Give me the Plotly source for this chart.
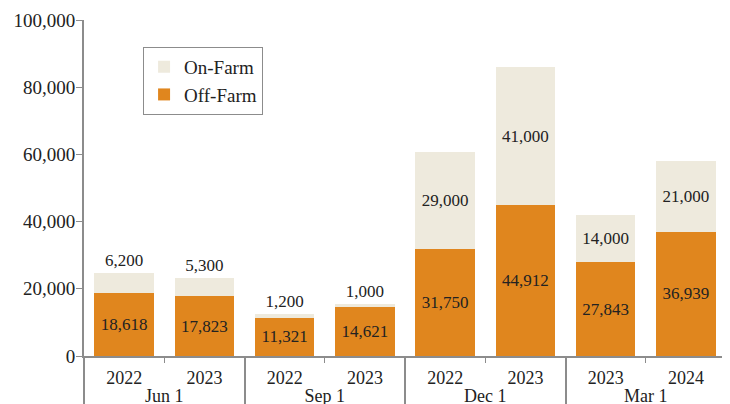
import plotly.graph_objects as go

groups = ["Jun 1", "Jun 1", "Sep 1", "Sep 1", "Dec 1", "Dec 1", "Mar 1", "Mar 1"]
years = ["2022", "2023", "2022", "2023", "2022", "2023", "2023", "2024"]
off_farm = [18618, 17823, 11321, 14621, 31750, 44912, 27843, 36939]
on_farm = [6200, 5300, 1200, 1000, 29000, 41000, 14000, 21000]
on_pos = ["outside", "outside", "outside", "outside", "inside", "inside", "inside", "inside"]
y_ticks = [0, 20000, 40000, 60000, 80000, 100000]

ORANGE = "#E0861E"
CREAM = "#EEEADD"
FONT = "Liberation Serif"
TXT = "#222222"
GREY = "#8c8c8c"

x = [groups, years]
fig = go.Figure()
fig.add_trace(go.Bar(
    x=x, y=off_farm, name="Off-Farm", marker=dict(color=ORANGE, line=dict(width=0)),
    text=[f"{v:,}" for v in off_farm], textposition="inside", insidetextanchor="middle",
    textangle=0, constraintext="none", textfont=dict(family=FONT, size=17, color=TXT),
    hoverinfo="skip"))
fig.add_trace(go.Bar(
    x=x, y=on_farm, name="On-Farm", marker=dict(color=CREAM, line=dict(width=0)),
    text=[f"{v:,}" for v in on_farm], textposition=on_pos, insidetextanchor="middle",
    textangle=0, constraintext="none", cliponaxis=False,
    textfont=dict(family=FONT, size=17, color=TXT),
    hoverinfo="skip"))

fig.update_layout(
    width=722, height=396, barmode="stack", bargap=0.26,
    margin=dict(l=76, r=4, t=12, b=48),
    paper_bgcolor="white", plot_bgcolor="white",
    font=dict(family=FONT, size=18, color=TXT),
    legend=dict(x=0.092, y=0.92, xanchor="left", yanchor="top",
                borderwidth=1, bordercolor=GREY, bgcolor="white",
                traceorder="reversed", font=dict(size=19), itemwidth=30),
    yaxis=dict(range=[0, 100000], tickvals=y_ticks, tickformat=",", showgrid=False,
               showline=True, linecolor=GREY, linewidth=2, ticks="outside",
               tickcolor=GREY, ticklen=6, zeroline=False, automargin=False,
               ticklabelstandoff=-3,
               tickfont=dict(size=19, color=TXT)),
    xaxis=dict(type="multicategory", showline=True, linecolor=GREY, linewidth=2,
               ticks="outside", tickcolor=GREY, ticklen=5, showgrid=False,
               showdividers=True, dividercolor=GREY, dividerwidth=2, automargin=False,
               range=[-0.5, 7.5], ticklabelstandoff=4,
               tickfont=dict(size=18, color=TXT)),
)
fig.write_html("out.html")
